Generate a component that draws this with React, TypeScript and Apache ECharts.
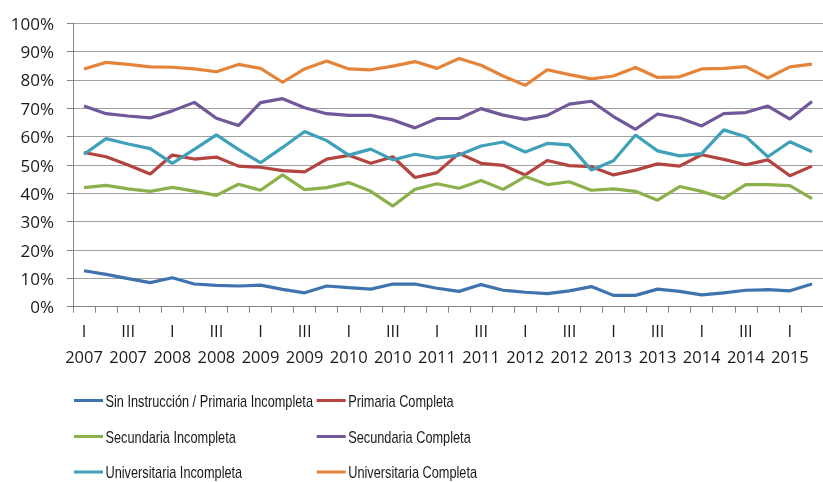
import React, { useEffect, useRef } from "react";
import * as echarts from "echarts";

const years = ["2007", "2008", "2009", "2010", "2011", "2012", "2013", "2014", "2015"];
const quarters = ["I", "II", "III", "IV"];
const categories: string[] = [];
years.forEach((y) => quarters.forEach((q) => categories.push(q + " " + y)));
categories.splice(34);

const seriesNames = [
  "Sin Instrucción / Primaria Incompleta",
  "Primaria Completa",
  "Secundaria Incompleta",
  "Secundaria Completa",
  "Universitaria Incompleta",
  "Universitaria Completa",
];

const sinInstruccion = [12.7, 11.4, 9.9, 8.5, 10.2, 8.0, 7.5, 7.3, 7.6, 6.1, 4.9, 7.3, 6.7, 6.2, 8.0, 8.0, 6.5, 5.4, 7.8, 5.8, 5.1, 4.6, 5.6, 7.1, 4.0, 4.0, 6.2, 5.4, 4.2, 4.9, 5.8, 6.0, 5.6, 8.0];
const primariaCompleta = [54.4, 52.9, 50.0, 46.8, 53.5, 52.1, 52.8, 49.6, 49.2, 48.0, 47.6, 52.1, 53.4, 50.6, 52.9, 45.6, 47.3, 54.1, 50.6, 49.9, 46.5, 51.6, 49.8, 49.4, 46.5, 48.2, 50.4, 49.6, 53.6, 52.0, 50.1, 51.8, 46.2, 49.6];
const secundariaIncompleta = [42.0, 42.8, 41.6, 40.7, 42.1, 40.8, 39.3, 43.2, 41.1, 46.5, 41.3, 42.0, 43.8, 40.7, 35.5, 41.4, 43.4, 41.8, 44.5, 41.4, 45.9, 43.1, 44.1, 41.1, 41.6, 40.7, 37.6, 42.4, 40.7, 38.2, 43.1, 43.1, 42.7, 38.1];
const secundariaCompleta = [70.8, 68.1, 67.3, 66.6, 69.1, 72.1, 66.5, 63.9, 72.0, 73.4, 70.2, 68.1, 67.5, 67.5, 65.9, 63.1, 66.4, 66.4, 69.9, 67.6, 66.1, 67.5, 71.5, 72.5, 67.1, 62.6, 68.0, 66.6, 63.8, 68.1, 68.5, 70.8, 66.2, 72.4];
const universitariaIncompleta = [53.8, 59.3, 57.4, 55.8, 50.6, 55.5, 60.6, 55.5, 50.8, 56.2, 61.8, 58.6, 53.5, 55.6, 51.8, 53.8, 52.4, 53.5, 56.7, 58.1, 54.6, 57.6, 57.1, 48.2, 51.5, 60.6, 55.0, 53.2, 54.0, 62.4, 60.0, 52.9, 58.2, 54.7];
const universitariaCompleta = [83.9, 86.2, 85.5, 84.6, 84.5, 83.9, 82.9, 85.5, 84.1, 79.2, 83.9, 86.7, 83.9, 83.6, 84.9, 86.5, 84.1, 87.6, 85.2, 81.4, 78.1, 83.6, 81.9, 80.4, 81.4, 84.4, 80.9, 81.1, 83.9, 84.1, 84.7, 80.7, 84.6, 85.6];

const yTicks = [0, 10, 20, 30, 40, 50, 60, 70, 80, 90, 100];

const colors = ["#3f73ae", "#b4443f", "#8cb04a", "#71589b", "#3fa1b9", "#e4843a"];
const allValues = [sinInstruccion, primariaCompleta, secundariaIncompleta, secundariaCompleta, universitariaIncompleta, universitariaCompleta];

export default function App() {
  const ref = useRef<HTMLDivElement>(null);
  useEffect(() => {
    if (!ref.current) return;
    const chart = echarts.init(ref.current, undefined, { renderer: "svg" });
    const colX = [74, 316.7];
    const rowY = [400.5, 436.5, 472];
    const legendGraphic = seriesNames.map((name, i) => ({
      type: "group",
      x: colX[i % 2],
      y: rowY[Math.floor(i / 2)],
      children: [
        {
          type: "line",
          shape: { x1: 0, y1: 0, x2: 29, y2: 0 },
          style: { stroke: colors[i], lineWidth: 3 },
        },
        {
          type: "text",
          x: 31.5,
          y: 0,
          scaleX: 0.75,
          style: {
            text: name,
            fill: "#1a1a1a",
            font: "17px 'Liberation Sans', Arial, sans-serif",
            textVerticalAlign: "middle",
            verticalAlign: "middle",
          },
        },
      ],
    }));
    chart.setOption({
      animation: false,
      color: colors,
      grid: { left: 73, right: -10.3, top: 23.3, bottom: 175.3, containLabel: false },
      xAxis: {
        type: "category",
        data: categories,
        boundaryGap: true,
        axisLine: { lineStyle: { color: "#868686", width: 1 } },
        axisTick: { show: true, interval: 0, length: 6, lineStyle: { color: "#868686" } },
        axisLabel: {
          interval: 1,
          margin: 11,
          fontFamily: "'Open Sans', sans-serif",
          fontSize: 16.5,
          lineHeight: 26,
          color: "#1a1a1a",
          formatter: (v: string) => v.replace(" ", "\n"),
        },
        splitLine: { show: false },
      },
      yAxis: {
        type: "value",
        min: yTicks[0],
        max: yTicks[yTicks.length - 1],
        interval: 10,
        axisLine: { show: true, lineStyle: { color: "#868686" } },
        axisTick: { show: true, length: 6, lineStyle: { color: "#868686" } },
        axisLabel: {
          margin: 19,
          fontFamily: "'Open Sans', sans-serif",
          fontSize: 17,
          color: "#1a1a1a",
          formatter: "{value}%",
        },
        splitLine: { show: true, lineStyle: { color: "#a0a0a0", width: 1 } },
      },
      graphic: legendGraphic,
      series: seriesNames.map((name, i) => ({
        name,
        type: "line",
        data: allValues[i],
        symbol: "none",
        lineStyle: { width: 3.2, color: colors[i] },
        itemStyle: { color: colors[i] },
        z: 2 + i,
      })),
    });
    return () => chart.dispose();
  }, []);
  return <div ref={ref} style={{ position: "fixed", left: 0, top: 0, width: 823, height: 482 }} />;
}
